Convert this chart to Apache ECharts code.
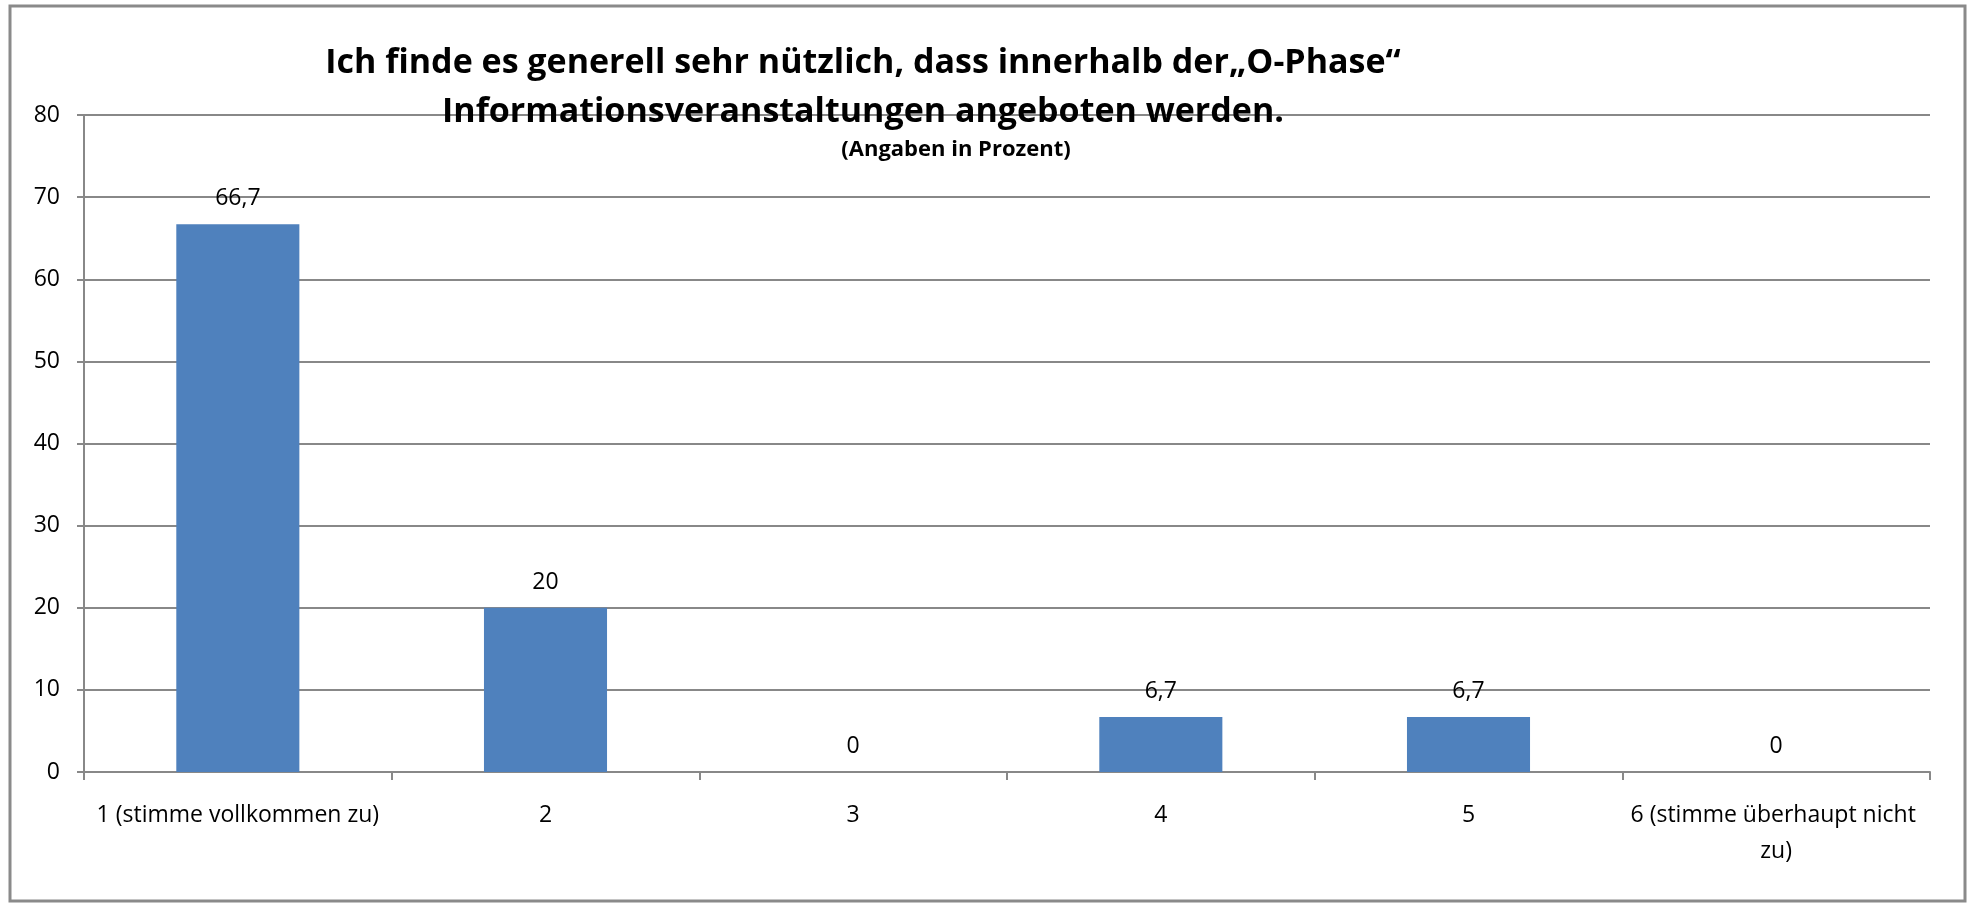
<!DOCTYPE html>
<html>
<head>
<meta charset="utf-8">
<script src="https://cdn.jsdelivr.net/npm/echarts@6/dist/echarts.min.js"></script>
<style>
html,body{margin:0;padding:0;background:#fff;}
#c{width:1968px;height:905px;}
</style>
</head>
<body>
<div id="c"></div>
<script>
const categories = ["1 (stimme vollkommen zu)", "2", "3", "4", "5", "6 (stimme überhaupt nicht zu)"];
const values = [66.7, 20, 0, 6.7, 6.7, 0];
const titleText = "Ich finde es generell sehr nützlich, dass innerhalb der„O-Phase“\nInformationsveranstaltungen angeboten werden.";
const subtitleText = "(Angaben in Prozent)";

const chart = echarts.init(document.getElementById('c'));
const FONT = "'Open Sans', 'Liberation Sans', sans-serif";
chart.setOption({
  animation: false,
  backgroundColor: '#fff',
  graphic: [{
    type: 'rect',
    shape: {x: 10, y: 6, width: 1955, height: 895},
    style: {fill: 'none', stroke: '#8a8a8a', lineWidth: 3},
    z: -1
  }],
  title: [{
    text: titleText,
    left: 858, top: 34, textAlign: 'center',
    textStyle: {fontFamily: FONT, fontWeight: 'bold', fontSize: 34, lineHeight: 49, color: '#000'}
  }, {
    text: subtitleText,
    left: 951, top: 134, textAlign: 'center',
    textStyle: {fontFamily: FONT, fontWeight: 'bold', fontSize: 22, color: '#000'}
  }],
  grid: {left: 84, right: 38, top: 115, bottom: 133},
  xAxis: {
    type: 'category',
    data: categories,
    axisLine: {lineStyle: {color: '#888888', width: 2}},
    axisTick: {show: true, length: 8, lineStyle: {color: '#888888', width: 2}},
    axisLabel: {color: '#000', fontFamily: FONT, fontSize: 23, margin: 25, interval: 0, width: 302, overflow: 'break', lineHeight: 36}
  },
  yAxis: {
    type: 'value', min: 0, max: 80, interval: 10,
    axisLine: {show: true, lineStyle: {color: '#888888', width: 2}},
    axisTick: {show: true, length: 7, lineStyle: {color: '#888888', width: 2}},
    splitLine: {lineStyle: {color: '#888888', width: 2}},
    axisLabel: {color: '#000', fontFamily: FONT, fontSize: 23, margin: 24}
  },
  series: [{
    type: 'bar',
    data: values,
    barWidth: '40%',
    itemStyle: {color: '#4F81BD'},
    label: {
      show: true, position: 'top', distance: 14,
      color: '#000', fontFamily: FONT, fontSize: 23,
      formatter: p => String(p.value).replace('.', ',')
    }
  }]
});
</script>
</body>
</html>
